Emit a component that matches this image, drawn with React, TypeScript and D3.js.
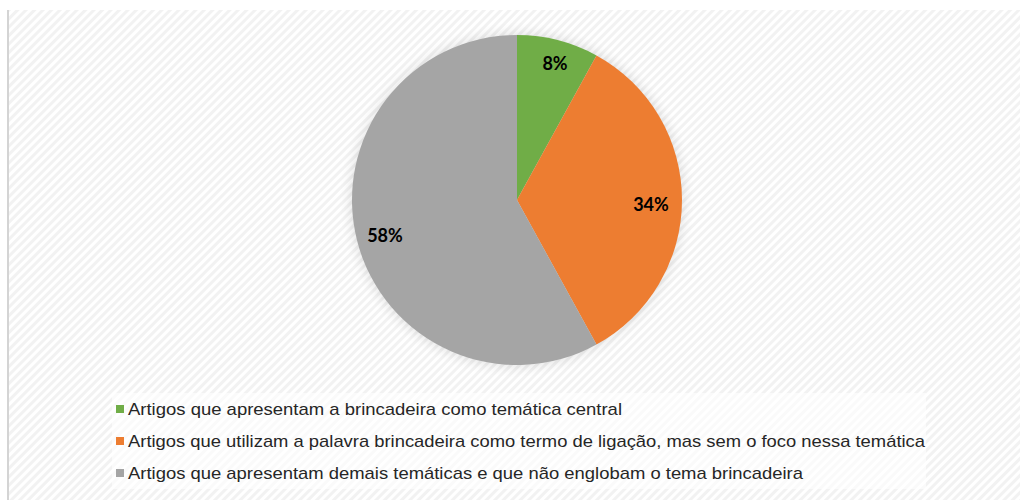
import React from "react";
import * as d3 from "d3";

const categories = [
  "Artigos que apresentam a brincadeira como temática central",
  "Artigos que utilizam a palavra brincadeira como termo de ligação, mas sem o foco nessa temática",
  "Artigos que apresentam demais temáticas e que não englobam o tema brincadeira",
];
const values = [8, 34, 58];
const labels = ["8%", "34%", "58%"];
const colors = ["#70AD47", "#ED7D31", "#A5A5A5"];

const W = 1020;
const H = 500;
const cx = 517;
const cy = 200;
const R = 165;
const legendWidths = [494, 797, 675];
const labelPos = [
  [555, 63],
  [651, 204],
  [385, 235],
];

export default function App() {
  const pie = d3.pie<number>().sort(null).value((d) => d)(values);
  const arc = d3.arc<d3.PieArcDatum<number>>().innerRadius(0).outerRadius(R);
  const legendY = d3.scaleBand<number>().domain([0, 1, 2]).range([393, 489]);

  return (
    <svg
      width={W}
      height={H}
      style={{ position: "absolute", left: 0, top: 0, display: "block" }}
    >
      <defs>
        <pattern
          id="stripes"
          patternUnits="userSpaceOnUse"
          width={6}
          height={6}
          patternTransform="rotate(45)"
        >
          <rect width={6} height={6} fill="#ffffff" />
          <rect width={3} height={6} fill="#f2f2f2" />
        </pattern>
        <filter id="glow" x="-20%" y="-20%" width="140%" height="140%">
          <feGaussianBlur stdDeviation="6" />
        </filter>
      </defs>
      <rect x={0} y={0} width={W} height={H} fill="#ffffff" />
      <rect x={9} y={10} width={W - 9} height={H - 10} fill="url(#stripes)" />
      <rect x={7} y={10} width={2} height={H - 10} fill="#d4d4d4" />
      <circle cx={cx} cy={cy} r={R + 2} fill="#000" opacity={0.1} filter="url(#glow)" />
      <g transform={`translate(${cx},${cy})`}>
        {pie.map((d, i) => (
          <path key={i} d={arc(d) || ""} fill={colors[i]} />
        ))}
      </g>
      {labels.map((l, i) => (
        <text
          key={i}
          x={labelPos[i][0]}
          y={labelPos[i][1]}
          textAnchor="middle"
          dominantBaseline="central"
          fontFamily="Lato, 'Open Sans', sans-serif"
          fontWeight="bold"
          fontSize={18}
          fill="#000"
        >
          {l}
        </text>
      ))}
      <rect x={112} y={393} width={814} height={96} fill="#ffffff" opacity={0.6} />
      {categories.map((c, i) => {
        const yc = (legendY(i) || 0) + legendY.bandwidth() / 2;
        return (
          <g key={i}>
            <rect x={116} y={yc - 4} width={8} height={8} fill={colors[i]} />
            <text
              x={128}
              y={yc}
              dominantBaseline="central"
              fontFamily="'Liberation Sans', Arial, sans-serif"
              fontSize={17}
              fill="#262626"
              textLength={legendWidths[i]}
              lengthAdjust="spacingAndGlyphs"
            >
              {c}
            </text>
          </g>
        );
      })}
    </svg>
  );
}
